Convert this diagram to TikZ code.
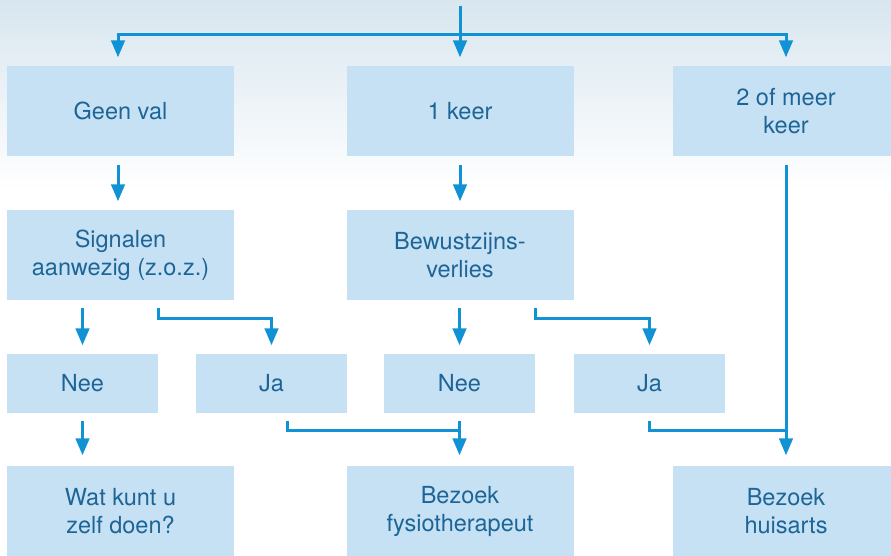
\documentclass[tikz,border=0pt]{standalone}
\usepackage{fontspec}
\setmainfont{TeX Gyre Heros}
\usetikzlibrary{arrows.meta,calc}
\definecolor{boxfill}{HTML}{C6E1F4}
\definecolor{txtcol}{HTML}{1D6597}
\definecolor{arrcol}{HTML}{1092D5}
\definecolor{bgtop}{HTML}{D8E6EF}
\tikzset{
  box/.style={fill=boxfill, text=txtcol, align=center, inner sep=0pt,
    font=\fontsize{23.5}{28}\selectfont},
  bigbox/.style={box, minimum width=227pt, minimum height=90pt},
  smallbox/.style={box, minimum width=151pt, minimum height=59pt},
  conn/.style={draw=arrcol, line width=3pt},
  arr/.style={conn, -{Triangle[width=13.5pt,length=17pt]}, shorten >=8.5pt},
}
\begin{document}
\begin{tikzpicture}[x=1pt,y=-1pt]
\useasboundingbox (0,0) rectangle (891,556);
\clip (0,0) rectangle (891,556);
\shade[top color=bgtop, bottom color=white] (0,0) rectangle (891,190);
% row 1
\node[bigbox] (g1) at (120.5,111) {Geen val};
\node[bigbox] (k1) at (460,111) {1 keer};
\node[bigbox] (m2) at (786,111) {2 of meer\\keer};
% row 2
\node[bigbox] (sig) at (120.5,255) {Signalen\\aanwezig (z.o.z.)};
\node[bigbox] (bew) at (460,255) {Bewustzijns-\\verlies};
% row 3
\node[smallbox] (n1) at (82.5,383.5) {Nee};
\node[smallbox] (j1) at (271.5,383.5) {Ja};
\node[smallbox] (n2) at (459.5,383.5) {Nee};
\node[smallbox] (j2) at (649.5,383.5) {Ja};
% row 4
\node[bigbox] (wat) at (120.5,511) {Wat kunt u\\zelf doen?};
\node[bigbox] (fys) at (460,511) {Bezoek\\fysiotherapeut};
\node[bigbox] (hui) at (786,511) {Bezoek\\huisarts};
% top split
\coordinate (top) at (460,6);
\coordinate (split) at (460,35);
\draw[arr] (top) -- (k1.north);
\draw[arr] (split) -| ([xshift=-2.5pt]g1.north);
\draw[arr] (split) -| (m2.north);
% row1 -> row2
\draw[arr, shorten <=9pt] ([xshift=-2.5pt]g1.south) -- ([xshift=-2.5pt]sig.north);
\draw[arr, shorten <=9pt] (k1.south) -- (bew.north);
% row2 -> row3
\draw[arr] ([yshift=-8pt]sig.south -| n1.north) -- (n1.north);
\draw[arr] ([yshift=-8pt]sig.south -| n1.east) -- ++(0,10) -| (j1.north);
\draw[arr] ([yshift=-8pt]bew.south -| n2.north) -- (n2.north);
\draw[arr] ([yshift=-8pt]bew.south -| n2.east) -- ++(0,10) -| (j2.north);
% row3 -> row4
\draw[arr, shorten <=8pt, shorten >=10.5pt] (n1.south) -- (n1.south |- wat.north);
\draw[arr, shorten <=8pt, shorten >=10.5pt] (n2.south) -- (n2.south |- fys.north);
\draw[conn] ([xshift=16pt,yshift=-8pt]j1.south) -- ++(0,9) -| ([yshift=-8pt]n2.south);
\draw[arr, shorten <=9pt, shorten >=10.5pt] (m2.south) -- (hui.north);
\draw[conn] ([yshift=-8pt]j2.south) -- ++(0,9) -| ([yshift=-18pt]m2.south |- j2.south);
\end{tikzpicture}
\end{document}
